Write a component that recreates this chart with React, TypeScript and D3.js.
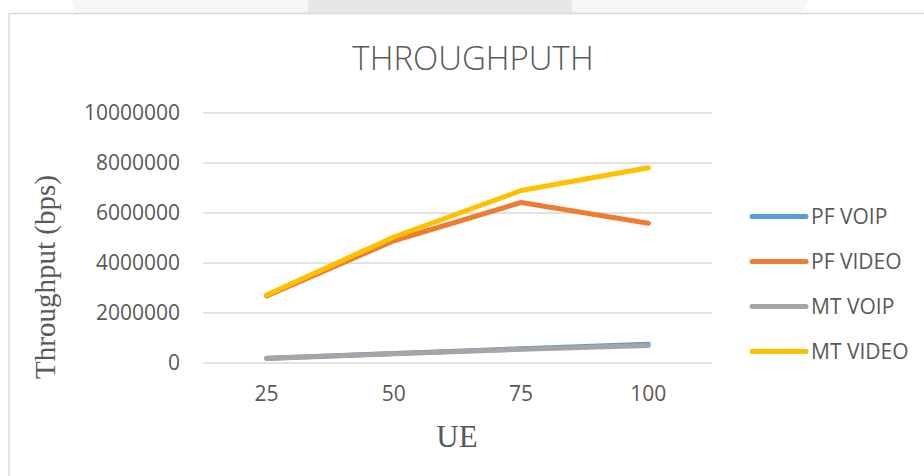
import { useRef, useEffect } from 'react';
import * as d3 from 'd3';

const categories = ['25', '50', '75', '100'];
const seriesNames = ['PF VOIP', 'PF VIDEO', 'MT VOIP', 'MT VIDEO'];
const pfVoip = [190000, 380000, 570000, 750000];
const pfVideo = [2680000, 4890000, 6420000, 5590000];
const mtVoip = [180000, 370000, 550000, 700000];
const mtVideo = [2720000, 5040000, 6900000, 7810000];
const yTicks = [0, 2000000, 4000000, 6000000, 8000000, 10000000];
const colors = ['#5b9bd5', '#ed7d31', '#a5a5a5', '#ffc000'];

export default function App() {
  const svgRef = useRef<SVGSVGElement>(null);

  useEffect(() => {
    if (!svgRef.current) return;
    const width = 924;
    const height = 476;
    const plot = { left: 203, right: 712, top: 113, bottom: 363 };

    const svg = d3.select(svgRef.current);
    svg.selectAll('*').remove();
    svg.attr('width', width).attr('height', height);

    svg.append('rect').attr('width', width).attr('height', height).attr('fill', '#ffffff');

    // faint shapes peeking in above the frame
    svg.append('path')
      .attr('d', 'M71,0 L808,0 L803,13 L76,13 Z')
      .attr('fill', '#f6f6f6');
    svg.append('rect')
      .attr('x', 308).attr('y', 0).attr('width', 264).attr('height', 13)
      .attr('fill', '#e7e7e9');

    // chart frame
    svg.append('rect')
      .attr('x', 9).attr('y', 13.5).attr('width', 940).attr('height', 500)
      .attr('fill', '#ffffff')
      .attr('stroke', '#d9d9d9').attr('stroke-width', 1.5);

    const x = d3.scaleBand().domain(categories).range([plot.left, plot.right]);
    const y = d3.scaleLinear().domain([0, 10000000]).range([plot.bottom, plot.top]);
    const cx = (c: string) => x(c)! + x.bandwidth() / 2;

    // gridlines
    svg.append('g')
      .selectAll('line')
      .data(yTicks)
      .enter()
      .append('line')
      .attr('x1', plot.left)
      .attr('x2', plot.right)
      .attr('y1', d => y(d))
      .attr('y2', d => y(d))
      .attr('stroke', '#d9d9d9')
      .attr('stroke-width', 1.5);

    // y tick labels
    svg.append('g')
      .selectAll('text')
      .data(yTicks)
      .enter()
      .append('text')
      .attr('x', 180)
      .attr('y', d => y(d))
      .attr('dy', '0.35em')
      .attr('text-anchor', 'end')
      .attr('fill', '#595959')
      .attr('font-family', 'Open Sans')
      .attr('font-size', '21px')
      .text(d => String(d));

    // x tick labels
    svg.append('g')
      .selectAll('text')
      .data(categories)
      .enter()
      .append('text')
      .attr('x', d => cx(d))
      .attr('y', 401)
      .attr('text-anchor', 'middle')
      .attr('fill', '#595959')
      .attr('font-family', 'Open Sans')
      .attr('font-size', '21px')
      .text(d => d);

    // series
    const data = [pfVoip, pfVideo, mtVoip, mtVideo];
    const line = d3.line<number>()
      .x((_, i) => cx(categories[i]))
      .y(d => y(d));

    data.forEach((values, i) => {
      svg.append('path')
        .attr('d', line(values)!)
        .attr('fill', 'none')
        .attr('stroke', colors[i])
        .attr('stroke-width', 5)
        .attr('stroke-linecap', 'round')
        .attr('stroke-linejoin', 'round');
    });

    // title
    svg.append('text')
      .attr('x', 473)
      .attr('y', 70)
      .attr('text-anchor', 'middle')
      .attr('fill', '#595959')
      .attr('font-family', 'Open Sans')
      .attr('font-weight', 300)
      .attr('font-size', '33px')
      .text('THROUGHPUTH');

    // axis titles
    svg.append('text')
      .attr('x', 457)
      .attr('y', 447)
      .attr('text-anchor', 'middle')
      .attr('fill', '#595959')
      .attr('font-family', 'Liberation Serif')
      .attr('font-size', '31px')
      .text('UE');

    svg.append('text')
      .attr('transform', 'translate(55,277) rotate(-90)')
      .attr('text-anchor', 'middle')
      .attr('fill', '#595959')
      .attr('font-family', 'Liberation Serif')
      .attr('font-size', '29px')
      .text('Throughput (bps)');

    // legend
    const legend = svg.append('g');
    seriesNames.forEach((name, i) => {
      const ly = 216.5 + i * 45;
      legend.append('line')
        .attr('x1', 752).attr('x2', 806)
        .attr('y1', ly).attr('y2', ly)
        .attr('stroke', colors[i])
        .attr('stroke-width', 5)
        .attr('stroke-linecap', 'round');
      legend.append('text')
        .attr('x', 811)
        .attr('y', ly)
        .attr('dy', '0.35em')
        .attr('fill', '#595959')
        .attr('font-family', 'Open Sans')
        .attr('font-size', '21px')
        .text(name);
    });
  }, []);

  return (
    <div style={{ position: 'absolute', left: 0, top: 0 }}>
      <svg ref={svgRef} style={{ display: 'block' }} />
    </div>
  );
}
